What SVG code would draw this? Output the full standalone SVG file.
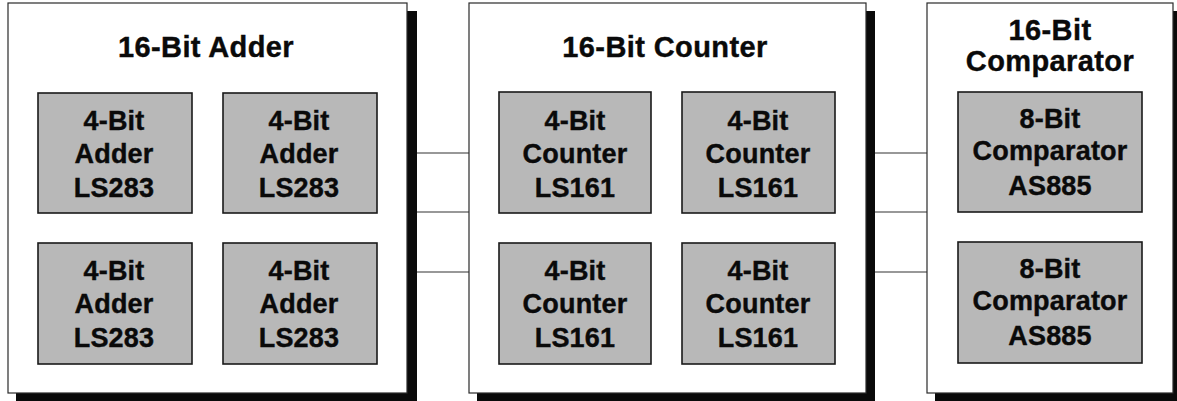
<svg xmlns="http://www.w3.org/2000/svg" width="1177" height="401" viewBox="0 0 1177 401">
  <style>
    .shadow { fill: #0a0a0a; }
    .outer { fill: #ffffff; stroke: #2a2a2a; stroke-width: 1.2; }
    .chip { fill: #b8b8b8; stroke: #1a1a1a; stroke-width: 1.6; }
    .title { font-family: "Liberation Sans", Arial, sans-serif; font-weight: bold; font-size: 29px; fill: #0a0a0a; stroke: #0a0a0a; stroke-width: 0.4; text-anchor: middle; letter-spacing: 0.4px; }
    .label { font-family: "Liberation Sans", Arial, sans-serif; font-weight: bold; font-size: 27px; fill: #0a0a0a; stroke: #0a0a0a; stroke-width: 0.4; text-anchor: middle; letter-spacing: 0.2px; }
    .wire { stroke: #333333; stroke-width: 1.2; fill: none; }
  </style>

  <!-- buses between the blocks -->
  <g id="connectors">
    <line class="wire" x1="417" y1="153" x2="469" y2="153"/>
    <line class="wire" x1="417" y1="212" x2="469" y2="212"/>
    <line class="wire" x1="417" y1="272" x2="469" y2="272"/>
    <line class="wire" x1="875" y1="153" x2="927" y2="153"/>
    <line class="wire" x1="875" y1="212" x2="927" y2="212"/>
    <line class="wire" x1="875" y1="272" x2="927" y2="272"/>
  </g>

  <!-- 16-bit adder block -->
  <g id="adder16">
    <rect class="shadow" x="16" y="11" width="401" height="390"/>
    <rect class="outer" x="8" y="3" width="399" height="390"/>
    <text class="title" x="206" y="57">16-Bit Adder</text>
    <g id="adder-a">
      <rect class="chip" x="38" y="93" width="154" height="120"/>
      <text class="label" x="114" y="130">4-Bit</text>
      <text class="label" x="114" y="163">Adder</text>
      <text class="label" x="114" y="197">LS283</text>
    </g>
    <g id="adder-b">
      <rect class="chip" x="223" y="93" width="154" height="120"/>
      <text class="label" x="299" y="130">4-Bit</text>
      <text class="label" x="299" y="163">Adder</text>
      <text class="label" x="299" y="197">LS283</text>
    </g>
    <g id="adder-c">
      <rect class="chip" x="38" y="243" width="154" height="121"/>
      <text class="label" x="114" y="280">4-Bit</text>
      <text class="label" x="114" y="313">Adder</text>
      <text class="label" x="114" y="347">LS283</text>
    </g>
    <g id="adder-d">
      <rect class="chip" x="223" y="243" width="154" height="121"/>
      <text class="label" x="299" y="280">4-Bit</text>
      <text class="label" x="299" y="313">Adder</text>
      <text class="label" x="299" y="347">LS283</text>
    </g>
  </g>

  <!-- 16-bit counter block -->
  <g id="counter16">
    <rect class="shadow" x="477" y="11" width="398" height="390"/>
    <rect class="outer" x="469" y="3" width="397" height="390"/>
    <text class="title" x="665" y="57">16-Bit Counter</text>
    <g id="counter-a">
      <rect class="chip" x="499" y="92" width="152" height="121"/>
      <text class="label" x="575" y="130">4-Bit</text>
      <text class="label" x="575" y="163">Counter</text>
      <text class="label" x="575" y="197">LS161</text>
    </g>
    <g id="counter-b">
      <rect class="chip" x="682" y="92" width="153" height="121"/>
      <text class="label" x="758" y="130">4-Bit</text>
      <text class="label" x="758" y="163">Counter</text>
      <text class="label" x="758" y="197">LS161</text>
    </g>
    <g id="counter-c">
      <rect class="chip" x="499" y="243" width="152" height="121"/>
      <text class="label" x="575" y="280">4-Bit</text>
      <text class="label" x="575" y="313">Counter</text>
      <text class="label" x="575" y="347">LS161</text>
    </g>
    <g id="counter-d">
      <rect class="chip" x="682" y="243" width="153" height="121"/>
      <text class="label" x="758" y="280">4-Bit</text>
      <text class="label" x="758" y="313">Counter</text>
      <text class="label" x="758" y="347">LS161</text>
    </g>
  </g>

  <!-- 16-bit comparator block -->
  <g id="comparator16">
    <rect class="shadow" x="935" y="11" width="246" height="390"/>
    <rect class="outer" x="927" y="3" width="246" height="390"/>
    <text class="title" x="1050" y="40">16-Bit</text>
    <text class="title" x="1050" y="71">Comparator</text>
    <g id="comparator-a">
      <rect class="chip" x="958" y="92" width="184" height="120"/>
      <text class="label" x="1050" y="128">8-Bit</text>
      <text class="label" x="1050" y="160">Comparator</text>
      <text class="label" x="1050" y="195">AS885</text>
    </g>
    <g id="comparator-b">
      <rect class="chip" x="958" y="242" width="184" height="121"/>
      <text class="label" x="1050" y="278">8-Bit</text>
      <text class="label" x="1050" y="310">Comparator</text>
      <text class="label" x="1050" y="345">AS885</text>
    </g>
  </g>
</svg>
